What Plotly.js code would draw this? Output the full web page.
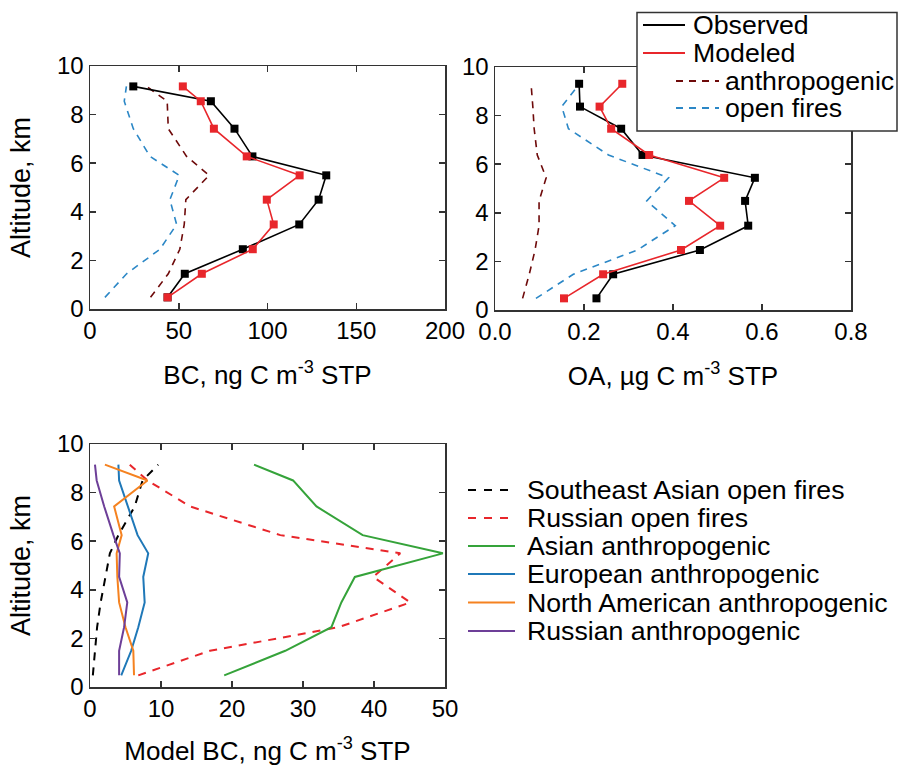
<!DOCTYPE html>
<html>
<head>
<meta charset="utf-8">
<script src="https://cdn.plot.ly/plotly-3.0.1.min.js"></script>
<style>html,body{margin:0;padding:0;background:#fff;}#chart{width:898px;height:766px;}</style>
</head>
<body>
<div id="chart"></div>
<script>
// ---- Panel (a): BC profiles ----
const altBC = [0.48, 1.45, 2.46, 3.48, 4.50, 5.50, 6.28, 7.42, 8.55, 9.16];
const bcObserved = [43.7, 53.4, 86.1, 117.9, 128.8, 133.1, 91.5, 81.4, 68.1, 24.4];
const bcModeled = [43.7, 63.0, 91.7, 103.5, 99.6, 118.1, 88.3, 69.8, 62.4, 52.3];
const bcAnthro = [34.1, 44.1, 50.6, 53.1, 54.0, 67.1, 54.4, 44.1, 43.5, 31.9];
const bcFires = [8.4, 20.6, 39.4, 48.8, 45.0, 50.3, 33.8, 24.4, 19.3, 20.5];

// ---- Panel (b): OA profiles ----
const altOA = [0.48, 1.47, 2.47, 3.47, 4.49, 5.44, 6.38, 7.46, 8.37, 9.31];
const oaObserved = [0.228, 0.2655, 0.4605, 0.569, 0.562, 0.584, 0.3315, 0.2835, 0.191, 0.189];
const oaModeled = [0.155, 0.243, 0.418, 0.506, 0.436, 0.515, 0.3465, 0.261, 0.235, 0.286];
const oaAnthro = [0.062, 0.077, 0.090, 0.099, 0.099, 0.115, 0.095, 0.088, 0.085, 0.081];
const oaFires = [0.092, 0.176, 0.320, 0.405, 0.341, 0.390, 0.255, 0.165, 0.150, 0.190];

// ---- Panel (c): model BC by source ----
const altModel = [0.48, 1.49, 2.46, 3.48, 4.53, 5.50, 6.25, 7.43, 8.50, 9.15];
const seAsiaFires = [0.4, 0.7, 1.0, 1.5, 2.2, 2.8, 4.0, 6.3, 7.4, 9.6];
const russiaFires = [6.8, 16.9, 35.0, 45.1, 39.9, 43.7, 26.8, 14.1, 8.1, 5.6];
const asiaAnthro = [18.9, 27.5, 34.0, 35.4, 37.3, 49.7, 38.4, 31.9, 28.6, 23.1];
const europeAnthro = [4.4, 5.8, 6.8, 7.7, 7.5, 8.2, 6.7, 5.3, 4.1, 4.0];
const northAmAnthro = [6.2, 6.1, 5.0, 4.1, 3.85, 3.75, 4.46, 3.4, 8.1, 2.1];
const russiaAnthro = [4.1, 4.1, 4.8, 5.25, 4.1, 4.2, 3.3, 2.0, 0.94, 0.7];

// ---- Labels ----
const topLegendNames = ["Observed", "Modeled", "anthropogenic", "open fires"];
const bottomLegendNames = ["Southeast Asian open fires", "Russian open fires", "Asian anthropogenic",
  "European anthropogenic", "North American anthropogenic", "Russian anthropogenic"];
const bcTicks = [0, 50, 100, 150, 200];
const oaTicks = [0, 0.2, 0.4, 0.6, 0.8];
const modelTicks = [0, 10, 20, 30, 40, 50];
const altTicks = [0, 2, 4, 6, 8, 10];

const FONT = "Liberation Sans, Arial, Helvetica, sans-serif";
const C = {
  obs: "#000000", mod: "#e8262b", anth: "#6e0a0a", fire: "#2b87c6",
  green: "#35a33a", blue: "#1f78b8", orange: "#f58220", purple: "#6d3f98", red: "#e8262b", black: "#000000"
};
const DASH = "7px,6px";

const W = 898, H = 766;
const px = v => v / W;
const py = v => 1 - v / H;

const traces = [
  // panel a
  {x: bcAnthro, y: altBC, xaxis: "x", yaxis: "y", mode: "lines", line: {color: C.anth, width: 1.6, dash: DASH}, name: topLegendNames[2]},
  {x: bcFires, y: altBC, xaxis: "x", yaxis: "y", mode: "lines", line: {color: C.fire, width: 1.6, dash: DASH}, name: topLegendNames[3]},
  {x: bcObserved, y: altBC, xaxis: "x", yaxis: "y", mode: "lines+markers", line: {color: C.obs, width: 1.6}, marker: {symbol: "square", size: 8, color: C.obs}, name: topLegendNames[0]},
  {x: bcModeled, y: altBC, xaxis: "x", yaxis: "y", mode: "lines+markers", line: {color: C.mod, width: 1.6}, marker: {symbol: "square", size: 8, color: C.mod}, name: topLegendNames[1]},
  // panel b
  {x: oaAnthro, y: altOA, xaxis: "x2", yaxis: "y2", mode: "lines", line: {color: C.anth, width: 1.6, dash: DASH}, name: topLegendNames[2]},
  {x: oaFires, y: altOA, xaxis: "x2", yaxis: "y2", mode: "lines", line: {color: C.fire, width: 1.6, dash: DASH}, name: topLegendNames[3]},
  {x: oaObserved, y: altOA, xaxis: "x2", yaxis: "y2", mode: "lines+markers", line: {color: C.obs, width: 1.6}, marker: {symbol: "square", size: 8, color: C.obs}, name: topLegendNames[0]},
  {x: oaModeled, y: altOA, xaxis: "x2", yaxis: "y2", mode: "lines+markers", line: {color: C.mod, width: 1.6}, marker: {symbol: "square", size: 8, color: C.mod}, name: topLegendNames[1]},
  // panel c
  {x: seAsiaFires, y: altModel, xaxis: "x3", yaxis: "y3", mode: "lines", line: {color: C.black, width: 2, dash: "8px,7px"}, name: bottomLegendNames[0]},
  {x: russiaFires, y: altModel, xaxis: "x3", yaxis: "y3", mode: "lines", line: {color: C.red, width: 2, dash: "8px,7px"}, name: bottomLegendNames[1]},
  {x: asiaAnthro, y: altModel, xaxis: "x3", yaxis: "y3", mode: "lines", line: {color: C.green, width: 2}, name: bottomLegendNames[2]},
  {x: europeAnthro, y: altModel, xaxis: "x3", yaxis: "y3", mode: "lines", line: {color: C.blue, width: 2}, name: bottomLegendNames[3]},
  {x: northAmAnthro, y: altModel, xaxis: "x3", yaxis: "y3", mode: "lines", line: {color: C.orange, width: 2}, name: bottomLegendNames[4]},
  {x: russiaAnthro, y: altModel, xaxis: "x3", yaxis: "y3", mode: "lines", line: {color: C.purple, width: 2}, name: bottomLegendNames[5]}
];
traces.forEach(t => { t.showlegend = false; t.hoverinfo = "skip"; });

const axBase = {
  showline: true, mirror: "ticks", linecolor: "#333", linewidth: 1.5,
  ticks: "inside", ticklen: 6, tickwidth: 1.5, tickcolor: "#333",
  showgrid: false, zeroline: false, fixedrange: true,
  tickfont: {family: FONT, size: 24, color: "#000"}
};
const titleFont = {family: FONT, size: 26, color: "#000"};
const yTitleFont = {family: FONT, size: 27, color: "#000"};
const LEG = 26.7;

const layout = {
  width: W, height: H,
  margin: {l: 0, r: 0, t: 0, b: 0},
  paper_bgcolor: "#fff", plot_bgcolor: "#fff",
  showlegend: false,
  font: {family: FONT, color: "#000"},
  xaxis: Object.assign({}, axBase, {domain: [px(90), px(445)], range: [0, 200], tickvals: bcTicks, anchor: "y",
    title: {text: "BC, ng C m<sup>-3</sup> STP", font: titleFont, standoff: 22}}),
  yaxis: Object.assign({}, axBase, {domain: [py(309), py(66)], range: [0, 10], tickvals: altTicks, anchor: "x",
    title: {text: "Altitude, km", font: yTitleFont, standoff: 18}}),
  xaxis2: Object.assign({}, axBase, {domain: [px(495), px(851)], range: [0, 0.8], tickvals: oaTicks, tickformat: ".1f", anchor: "y2",
    title: {text: "OA, µg C m<sup>-3</sup> STP", font: titleFont, standoff: 22}}),
  yaxis2: Object.assign({}, axBase, {domain: [py(310), py(67)], range: [0, 10], tickvals: altTicks, anchor: "x2"}),
  xaxis3: Object.assign({}, axBase, {domain: [px(90), px(445)], range: [0, 50], tickvals: modelTicks, anchor: "y3",
    title: {text: "Model BC, ng C m<sup>-3</sup> STP", font: titleFont, standoff: 24}}),
  yaxis3: Object.assign({}, axBase, {domain: [py(687), py(444)], range: [0, 10], tickvals: altTicks, anchor: "x3",
    title: {text: "Altitude, km", font: yTitleFont, standoff: 18}}),
  shapes: [],
  annotations: []
};

// ---- Top legend (boxed, with indented source entries) ----
layout.shapes.push({type: "rect", xref: "paper", yref: "paper", x0: px(637), x1: px(897), y0: py(131), y1: py(12.5),
  line: {color: "#333", width: 1.5}, fillcolor: "#fff", layer: "above"});
const topRows = [
  {y: 25, x0: 643, x1: 685, tx: 692, color: C.obs, dash: "solid"},
  {y: 53, x0: 643, x1: 685, tx: 692, color: C.mod, dash: "solid"},
  {y: 81, x0: 676, x1: 719, tx: 724, color: C.anth, dash: DASH},
  {y: 108, x0: 676, x1: 719, tx: 724, color: C.fire, dash: DASH}
];
topRows.forEach((r, i) => {
  layout.shapes.push({type: "line", xref: "paper", yref: "paper", x0: px(r.x0), x1: px(r.x1), y0: py(r.y), y1: py(r.y),
    line: {color: r.color, width: 1.8, dash: r.dash}, layer: "above"});
  layout.annotations.push({xref: "paper", yref: "paper", x: px(r.tx), y: py(r.y), xanchor: "left", yanchor: "middle",
    text: topLegendNames[i], showarrow: false, borderpad: 0, font: {family: FONT, size: LEG, color: "#000"}});
});

// ---- Bottom legend (no box) ----
const botColors = [C.black, C.red, C.green, C.blue, C.orange, C.purple];
const botDashed = [true, true, false, false, false, false];
const botRowY = [490, 518, 546, 574, 602.5, 631];
bottomLegendNames.forEach((name, i) => {
  layout.shapes.push({type: "line", xref: "paper", yref: "paper", x0: px(468), x1: px(botDashed[i] ? 510 : 515),
    y0: py(botRowY[i]), y1: py(botRowY[i]),
    line: {color: botColors[i], width: 2, dash: botDashed[i] ? "8px,8px" : "solid"}});
  layout.annotations.push({xref: "paper", yref: "paper", x: px(526), y: py(botRowY[i]), xanchor: "left", yanchor: "middle",
    text: name, showarrow: false, borderpad: 0, font: {family: FONT, size: LEG, color: "#000"}});
});

Plotly.newPlot("chart", traces, layout, {staticPlot: true, displayModeBar: false});
</script>
</body>
</html>
